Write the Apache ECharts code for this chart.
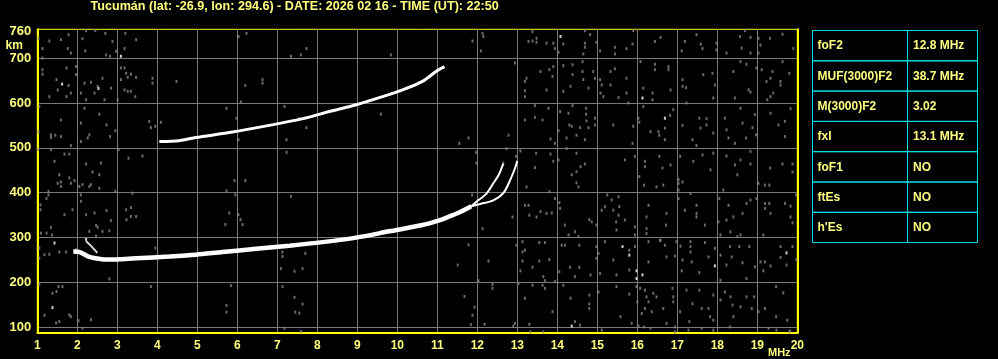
<!DOCTYPE html>
<html>
<head>
<meta charset="utf-8">
<script src="https://cdn.jsdelivr.net/npm/echarts@6/dist/echarts.min.js"></script>
<style>
html,body{margin:0;padding:0;background:#000;}
#chart{width:998px;height:359px;}
</style>
</head>
<body>
<div id="chart"></div>
<script>
// ---------- data ----------
const titleText = 'Tucumán (lat: -26.9, lon: 294.6) - DATE: 2026 02 16 - TIME (UT): 22:50';
const yLabelValues = [100, 200, 300, 400, 500, 600, 700, 760];
const yGridValues = [100, 200, 300, 400, 500, 600, 700];
const tableLabels = ['foF2', 'MUF(3000)F2', 'M(3000)F2', 'fxI', 'foF1', 'ftEs', "h'Es"];
const tableValues = ['12.8 MHz', '38.7 MHz', '3.02', '13.1 MHz', 'NO', 'NO', 'NO'];

// F2 trace (common part of O and X), [MHz, km]
const traceMain = [[1.9,269],[2.05,268],[2.3,257],[2.6,252],[2.8,251],[3.1,252],[3.47,254],[4.3,258],[4.97,262],[5.63,268],[6.47,275],[7.3,282],[8.13,290],[8.97,300],[9.8,314],[10.63,328],[11.07,339],[11.3,347],[11.57,357],[11.85,370]];
const traceO = [[11.85,370],[11.98,380],[12.23,398],[12.40,421],[12.53,439],[12.65,465]];
const traceX = [[11.85,370],[12.07,375],[12.40,383],[12.65,399],[12.82,428],[12.94,454],[13.0,471]];
const traceHook = [[2.22,292],[2.35,281],[2.5,266]];
// second hop
const trace2F = [[4.05,514],[4.55,516],[4.97,523],[5.8,534],[6.8,550],[7.64,565],[8.3,581],[8.97,596],[9.63,614],[10.13,629],[10.63,648],[11.0,672],[11.18,681]];

// scattered noise echoes, [MHz, km]
const noiseA = [[1.03,744],[1.13,721],[1.13,700],[1.30,738],[1.59,741],[1.78,752],[1.76,721],[1.84,711],[2.13,743],[2.20,716],[2.22,761],[2.45,761],[2.70,755],[2.72,707],[2.82,704],[2.88,737],[2.97,715],[3.20,755],[3.18,721],[3.47,741],[6.03,748],[6.23,755],[7.34,704],[7.59,707],[7.73,721],[9.84,707],[11.88,738],[12.09,716],[12.13,755],[12.15,748],
[1.13,674],[1.13,664],[1.48,652],[1.51,629],[1.30,614],[1.73,678],[1.78,639],[1.73,614],[1.84,622],[1.97,681],[1.97,663],[2.09,622],[2.18,644],[2.22,607],[2.34,646],[2.51,637],[2.43,622],[2.63,655],[2.68,607],[2.84,633],[3.01,607],[3.09,652],[3.09,678],[3.18,678],[3.22,666],[3.26,657],[3.34,664],[3.18,629],[3.26,626],[3.34,626],[3.45,614],[3.47,657],[3.88,655],[3.88,644],[4.48,648],[6.20,639],[6.63,652],[6.63,644],[6.09,602],
[1.05,592],[1.03,536],[1.34,529],[1.34,523],[1.45,528],[1.59,525],[1.59,562],[1.84,505],[2.09,555],[2.09,514],[2.18,588],[2.26,522],[2.30,529],[2.55,575],[2.73,551],[2.82,525],[2.95,538],[3.80,559],[3.84,545],[3.95,548],[4.09,557],[5.73,588],[5.98,566],[6.03,518],[7.18,592],[7.23,518],[7.55,565],[7.73,545],[9.59,575],[11.55,510],[11.78,522],
[1.01,496],[1.34,496],[1.43,470],[1.55,440],[1.59,424],[1.59,414],[1.68,486],[1.80,486],[1.51,421],[1.80,433],[1.84,421],[1.93,427],[2.05,414],[2.13,418],[2.22,464],[2.30,414],[2.34,418],[2.38,446],[2.55,440],[2.59,466],[2.55,410],[2.95,403],[3.03,496],[3.28,477],[3.63,482],[5.93,427],[6.20,427],[7.23,490],[11.97,490],[11.98,466],
[1.08,373],[1.08,362],[1.23,387],[1.28,403],[1.28,395],[1.09,310],[1.23,310],[1.34,323],[1.37,306],[1.68,351],[1.88,362],[2.09,395],[2.09,381],[2.22,351],[2.30,314],[2.43,355],[2.47,327],[2.51,323],[2.63,314],[2.73,360],[2.80,315],[2.84,338],[3.22,362],[3.34,367],[3.23,340],[3.34,347],[3.47,347],[3.38,399],[5.73,404],[5.80,355],[5.95,395],[6.03,351],[6.08,340],[6.13,329],[5.70,329],[7.34,392],[11.87,395],[12.13,320],
[1.05,277],[1.05,254],[1.18,262],[1.30,263],[1.55,268],[1.72,268],[1.97,273],[2.47,303],[2.80,208],[3.95,277],[7.13,268],[7.13,258],[7.09,231],[7.43,225],[7.63,231],[7.70,265],[11.51,239],[11.78,284],[12.28,248],[12.03,204],
[1.05,195],[1.38,176],[1.48,180],[1.53,191],[1.63,191],[1.80,128],[1.84,124],[2.03,115],[1.18,127],[1.47,110],[1.55,113],[2.13,98],[2.34,117],[3.84,191],[5.84,193],[5.73,149],[5.73,134],[7.13,191],[7.43,167],[7.55,132],[7.63,152],[7.45,134],[7.59,91],[7.18,98],[11.68,169],[11.93,145],[11.88,127],[11.84,106],[12.18,107],[12.38,196],[12.38,187]];

const noiseB = [[13.38,759],[13.28,737],[13.38,738],[13.48,744],[13.48,735],[13.73,733],[13.90,733],[13.94,721],[14.03,713],[14.15,731],[14.69,761],[14.69,733],[14.69,724],[14.65,709],[14.82,752],[14.98,735],[15.07,716],[15.44,724],[15.44,709],[15.73,721],[15.88,731],[15.90,761],[16.44,737],[16.58,746],[17.11,716],[17.19,737],[17.48,752],[17.59,731],[17.63,721],[17.98,733],[17.98,718],[18.23,711],[18.57,748],[18.61,722],[18.69,761],[18.83,746],[18.83,711],[19.03,744],[19.03,711],[19.08,729],[19.32,744],[19.63,753],[19.90,721],
[12.94,689],[13.19,648],[13.19,627],[13.23,655],[13.19,614],[13.58,670],[13.73,629],[13.80,674],[13.90,681],[13.88,659],[14.15,626],[14.15,683],[14.33,637],[14.38,685],[14.38,663],[14.63,692],[14.63,670],[14.65,652],[14.78,633],[14.90,670],[14.94,655],[15.07,652],[15.08,622],[15.15,614],[15.11,640],[15.33,640],[15.33,670],[15.44,676],[15.53,612],[15.73,655],[15.73,622],[15.78,600],[16.08,692],[16.15,633],[16.38,622],[16.38,607],[16.44,686],[16.44,674],[16.78,681],[16.78,674],[16.83,629],[17.13,652],[17.13,637],[17.22,634],[17.23,600],[17.65,663],[17.88,666],[17.90,611],[17.94,640],[18.40,670],[18.44,611],[18.58,692],[18.73,686],[18.78,629],[18.83,624],[18.98,678],[19.11,674],[19.23,648],[19.33,655],[19.33,614],[19.38,670],[19.40,622],[19.25,607],[19.58,648],[19.58,640],[19.63,692],[19.80,666],
[12.78,528],[13.19,562],[13.44,594],[13.44,568],[13.63,562],[13.78,588],[13.83,520],[13.94,510],[14.03,538],[14.07,581],[14.23,522],[14.28,577],[14.30,551],[14.36,548],[14.38,594],[14.48,528],[14.57,545],[14.69,518],[14.72,588],[14.72,575],[14.73,560],[14.78,545],[14.94,566],[14.94,551],[15.40,551],[15.90,548],[15.88,510],[16.03,566],[16.05,557],[16.15,592],[16.33,536],[16.53,536],[16.55,528],[16.69,544],[16.69,518],[16.82,572],[16.90,585],[17.13,550],[17.38,518],[17.48,505],[17.55,566],[17.58,544],[17.73,565],[17.73,551],[17.90,533],[18.19,566],[18.23,540],[18.28,522],[18.44,510],[18.58,588],[18.63,555],[18.72,522],[18.88,545],[18.94,574],[18.97,529],[19.33,577],[19.53,551],[19.69,559],[19.69,525],[19.83,587],
[12.65,466],[12.73,498],[12.97,481],[13.08,493],[13.44,456],[13.47,488],[13.83,486],[13.90,470],[14.03,473],[14.23,498],[14.36,440],[14.48,488],[14.48,447],[14.58,458],[14.69,464],[15.69,473],[15.94,481],[16.05,436],[16.19,470],[16.19,458],[16.55,481],[16.63,455],[16.83,462],[17.03,429],[17.07,481],[17.40,470],[17.63,484],[17.83,451],[17.90,488],[18.23,482],[18.44,462],[18.50,440],[18.58,473],[18.83,492],[18.83,464],[19.32,455],[19.63,464],[19.88,464],[19.88,446]];

const noiseC = [[13.23,413],[13.80,402],[14.53,413],[14.48,422],[16.17,417],[16.48,413],[16.65,417],[17.03,421],[17.03,406],[17.13,424],[17.33,398],[18.15,406],[19.03,421],[19.19,417],[19.30,417],[19.97,395],
[12.88,346],[13.19,372],[13.28,372],[13.30,350],[13.48,346],[13.58,358],[13.73,354],[13.86,355],[13.94,387],[14.05,378],[14.07,365],[14.19,328],[14.28,306],[14.44,313],[14.53,302],[14.80,340],[14.86,335],[14.98,328],[15.11,361],[15.19,369],[15.25,395],[15.36,384],[15.40,361],[15.47,335],[15.48,317],[15.53,350],[15.53,391],[15.55,369],[15.69,339],[15.94,324],[15.94,306],[16.23,346],[16.23,320],[16.23,309],[16.28,372],[16.57,294],[16.72,328],[16.73,354],[17.03,387],[17.19,361],[17.48,372],[17.48,354],[17.48,346],[17.69,328],[18.03,335],[18.05,387],[18.08,306],[18.23,339],[18.28,372],[18.33,313],[18.40,346],[18.50,302],[18.58,306],[18.63,354],[18.73,376],[18.83,384],[18.98,387],[19.15,306],[19.19,376],[19.19,365],[19.30,376],[19.33,354],[19.69,376],[19.83,370],[19.83,346],[19.88,333],
[12.98,283],[13.13,291],[13.13,268],[13.13,248],[13.08,226],[13.19,272],[13.38,234],[13.55,289],[13.55,248],[13.65,213],[13.69,289],[13.69,204],[13.80,251],[13.94,202],[14.05,224],[14.11,283],[14.19,283],[14.32,234],[14.44,213],[14.55,234],[14.55,283],[14.83,217],[14.98,280],[14.98,254],[15.03,265],[15.07,220],[15.19,291],[15.40,250],[15.48,217],[15.80,272],[15.80,228],[15.94,280],[16.28,246],[16.28,291],[16.58,294],[16.69,283],[16.73,257],[16.94,259],[16.98,291],[17.08,281],[17.13,250],[17.11,226],[17.33,291],[17.33,280],[17.33,268],[17.36,246],[17.55,222],[17.69,289],[17.78,257],[17.94,276],[18.08,261],[18.08,205],[18.23,239],[18.32,280],[18.36,257],[18.55,280],[18.63,244],[18.73,209],[18.80,280],[18.94,235],[19.08,246],[19.15,226],[19.19,246],[19.33,237],[19.58,280],[19.58,256],[19.73,239],[19.88,280],[19.98,251],
[13.03,198],[13.19,165],[13.38,194],[13.63,194],[13.69,187],[13.88,135],[14.15,194],[14.33,165],[14.44,113],[14.57,105],[14.80,142],[14.80,152],[14.80,172],[15.03,179],[15.11,94],[15.48,191],[15.58,124],[15.80,174],[15.86,109],[15.98,191],[16.00,157],[16.07,187],[16.11,131],[16.19,183],[16.19,142],[16.23,168],[16.28,157],[16.36,135],[16.40,176],[16.48,168],[16.65,142],[16.73,109],[16.90,168],[16.90,157],[16.88,187],[16.94,90],[17.07,135],[17.23,183],[17.30,113],[17.38,153],[17.55,183],[17.61,142],[17.78,142],[17.82,124],[17.90,116],[17.90,172],[18.08,161],[18.19,179],[18.33,168],[18.38,150],[18.40,124],[18.58,146],[18.73,168],[18.86,142],[18.92,168],[19.03,135],[19.19,142],[19.28,98],[19.47,191],[19.47,124],[19.48,94],[19.65,177],[19.75,116],[19.80,90],
[12.90,103],[12.94,109],[13.30,107],[13.33,90],[13.65,90],[16.03,103],[16.17,101],[16.33,98],[16.94,101],[17.28,94],[17.61,98],[17.90,94],[18.32,101],[19.82,92]];

const noiseWhite = [[1.62,642],[2.53,632],[3.09,704],[1.43,288],[1.38,144],[2.22,296],[14.08,748],[16.13,611],[16.69,566],[15.63,280],[15.80,261],[15.98,226],[15.98,209],[16.13,217],[17.94,237],[19.73,266],[14.36,103]];

// ---------- styles ----------
const YEL = '#ffff00';
const TXT = '#ffff80';
const GRIDC = '#7a7a7a';
const NOISEC = '#858585';
const CYAN = '#00e4ec';
const FONT = '"Liberation Sans", Arial, sans-serif';

const chart = echarts.init(document.getElementById('chart'), null, {renderer: 'canvas'});

// table graphics
const tx0 = 812.5, tx1 = 907.5, tx2 = 977.5, ty0 = 30.5, rowH = 30.3;
const graphics = [];
graphics.push({type: 'text', x: 90.5, y: 6.8, style: {text: titleText, fill: TXT, font: 'bold 12.6px ' + FONT, verticalAlign: 'middle', textVerticalAlign: 'middle'}, z: 10});
tableLabels.forEach((lab, i) => {
  const y = ty0 + i * rowH;
  graphics.push({type: 'rect', shape: {x: tx0, y: y, width: tx1 - tx0, height: rowH}, style: {fill: 'none', stroke: CYAN, lineWidth: 1}, z: 5});
  graphics.push({type: 'rect', shape: {x: tx1, y: y, width: tx2 - tx1, height: rowH}, style: {fill: 'none', stroke: CYAN, lineWidth: 1}, z: 5});
  graphics.push({type: 'text', x: 817.5, y: y + rowH / 2 + 0.5, style: {text: lab, fill: TXT, font: 'bold 12px ' + FONT, textVerticalAlign: 'middle', verticalAlign: 'middle'}, z: 6});
  graphics.push({type: 'text', x: 913, y: y + rowH / 2 + 0.5, style: {text: tableValues[i], fill: TXT, font: 'bold 12px ' + FONT, textVerticalAlign: 'middle', verticalAlign: 'middle'}, z: 6});
});
graphics.push({type: 'text', x: 5.5, y: 45.5, style: {text: 'km', fill: TXT, font: 'bold 12px ' + FONT, verticalAlign: 'middle', textVerticalAlign: 'middle'}, z: 6});
graphics.push({type: 'text', x: 768, y: 353, style: {text: 'MHz', fill: TXT, font: 'bold 11px ' + FONT, verticalAlign: 'middle', textVerticalAlign: 'middle'}, z: 6});

function lineSeries(data, width, color) {
  return {type: 'line', data: data, showSymbol: false, symbol: 'none', smooth: 0.3, silent: true,
    lineStyle: {color: color, width: width}, z: 4};
}
function noiseSeries(data, color, z) {
  return {type: 'scatter', data: data, symbol: 'rect', symbolSize: [2, 3], silent: true,
    itemStyle: {color: color}, z: z};
}

const option = {
  backgroundColor: '#000000',
  animation: false,
  title: {show: false},
  grid: {left: 37.3, top: 29.3, width: 760, height: 303.5, show: true, borderColor: YEL, borderWidth: 1, backgroundColor: '#000', containLabel: false},
  xAxis: {
    type: 'value', min: 1, max: 20, interval: 1,
    axisLine: {show: true, onZero: false, lineStyle: {color: YEL, width: 2}},
    axisTick: {show: false},
    axisLabel: {color: TXT, fontFamily: FONT, fontWeight: 'bold', fontSize: 12, margin: 7},
    splitLine: {show: true, lineStyle: {color: GRIDC, width: 1}}
  },
  yAxis: [{
    type: 'value', min: 88, max: 764,
    axisLine: {show: true, onZero: false, lineStyle: {color: YEL, width: 2}},
    axisTick: {show: false, customValues: yGridValues},
    axisLabel: {color: TXT, fontFamily: FONT, fontWeight: 'bold', fontSize: 13, margin: 6, customValues: yLabelValues},
    splitLine: {show: true, lineStyle: {color: GRIDC, width: 1}}
  }, {
    type: 'value', min: 88, max: 764, position: 'right',
    axisLine: {show: true, onZero: false, lineStyle: {color: YEL, width: 2}},
    axisTick: {show: false}, axisLabel: {show: false}, splitLine: {show: false}
  }],
  graphic: graphics,
  series: [
    noiseSeries(noiseA, NOISEC, 2),
    noiseSeries(noiseB, NOISEC, 2),
    noiseSeries(noiseC, NOISEC, 2),
    noiseSeries(noiseWhite, '#ffffff', 3),
    lineSeries(traceHook, 2, '#d8d8d8'),
    lineSeries(traceMain, 4.5, '#ffffff'),
    lineSeries(traceO, 2, '#ffffff'),
    lineSeries(traceX, 2, '#ffffff'),
    lineSeries(trace2F, 3, '#ffffff')
  ]
};
chart.setOption(option);
</script>
</body>
</html>
